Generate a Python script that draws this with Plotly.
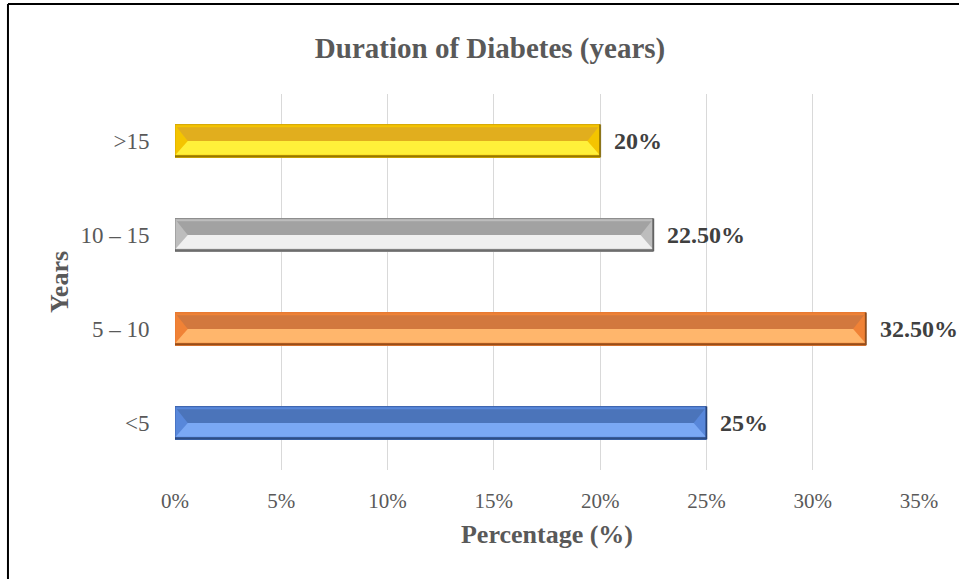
import plotly.graph_objects as go

# Duration of diabetes, share of patients per group
categories = ["<5", "5 – 10", "10 – 15", ">15"]
percentages = [25, 32.5, 22.5, 20]

# bevel palette per bar: (side facets, top facet, bottom facet, outline, edge shadow)
palette = [
    ("#5887DA", "#4B74BA", "#7AA8F4", "#3A62AE", "#13284F"),
    ("#F08236", "#D2783E", "#FFB66C", "#E8772E", "#5A2C08"),
    ("#BDBDBD", "#A2A2A2", "#F0F0F0", "#8A8A8A", "#3C3C3C"),
    ("#F4C400", "#E1AE1E", "#FFF03A", "#D7A800", "#5A4800"),
]

FONT = "Liberation Serif, Times New Roman, serif"
HALF = 0.175    # half of the bar thickness (category units)
FACET = 0.6     # horizontal depth of the end facets (percent units)

fig = go.Figure()

# base bars carry the side-facet colour
fig.add_trace(go.Bar(
    x=percentages,
    y=list(range(len(categories))),
    orientation="h",
    width=2 * HALF,
    marker=dict(color=[p[0] for p in palette],
                line=dict(color=[p[3] for p in palette], width=1)),
    hoverinfo="skip",
    showlegend=False,
))

# bevel facets and edge shading on top of each bar
for i, v in enumerate(percentages):
    side, top, bottom, outline, shadow = palette[i]
    yc = i
    fig.add_trace(go.Scatter(
        x=[0.03, v - 0.03, v - FACET, FACET, 0.03],
        y=[yc + HALF - 0.012, yc + HALF - 0.012, yc, yc, yc + HALF - 0.012],
        fill="toself", fillcolor=top, mode="lines", line=dict(width=0),
        hoverinfo="skip", showlegend=False,
    ))
    fig.add_trace(go.Scatter(
        x=[0.03, v - 0.03, v - FACET, FACET, 0.03],
        y=[yc - HALF + 0.03, yc - HALF + 0.03, yc, yc, yc - HALF + 0.03],
        fill="toself", fillcolor=bottom, mode="lines", line=dict(width=0),
        hoverinfo="skip", showlegend=False,
    ))
    # thin highlight along the top edge
    fig.add_trace(go.Scatter(
        x=[0.05, v - 0.05], y=[yc + HALF - 0.02, yc + HALF - 0.02],
        mode="lines", line=dict(color=side, width=1.5),
        hoverinfo="skip", showlegend=False,
    ))
    # darker bottom and right edges
    fig.add_trace(go.Scatter(
        x=[0, v, v], y=[yc - HALF + 0.012, yc - HALF + 0.012, yc + HALF],
        mode="lines", line=dict(color=shadow, width=2),
        opacity=0.6, hoverinfo="skip", showlegend=False,
    ))

# value labels next to each bar end
for i, v in enumerate(percentages):
    label = f"{v:.0f}%" if float(v).is_integer() else f"{v:.2f}%"
    fig.add_annotation(
        x=v, y=i, text=f"<b>{label}</b>", showarrow=False,
        xanchor="left", yanchor="middle", xshift=12,
        font=dict(family=FONT, size=24, color="#404040"),
    )

# outer frame of the chart area
fig.add_shape(type="line", xref="paper", yref="paper",
              x0=-0.2245, x1=-0.2245, y0=-0.4, y1=1.2394,
              line=dict(color="black", width=2))
fig.add_shape(type="line", xref="paper", yref="paper",
              x0=-0.2245, x1=1.2, y0=1.2394, y1=1.2394,
              line=dict(color="black", width=2))

fig.update_layout(
    width=959, height=579,
    margin=dict(l=175, r=40, t=94, b=109),
    paper_bgcolor="white", plot_bgcolor="white",
    barmode="overlay",
    title=dict(text="<b>Duration of Diabetes (years)</b>",
               x=0.511, xref="container", xanchor="center",
               y=1 - 48 / 579, yref="container", yanchor="middle",
               font=dict(family=FONT, size=29, color="#595959")),
    xaxis=dict(
        range=[0, 35], dtick=5, ticksuffix="%",
        showgrid=True, gridcolor="#D9D9D9", gridwidth=1,
        zeroline=False, showline=False,
        ticks="outside", ticklen=12, tickcolor="rgba(0,0,0,0)",
        tickfont=dict(family=FONT, size=21, color="#595959"),
        title=dict(text="<b>Percentage (%)</b>", standoff=12,
                   font=dict(family=FONT, size=26, color="#595959")),
        fixedrange=True,
    ),
    yaxis=dict(
        range=[-0.5, 3.5],
        tickvals=list(range(len(categories))), ticktext=categories,
        showgrid=False, zeroline=False, showline=False,
        ticks="outside", ticklen=20, tickcolor="rgba(0,0,0,0)",
        tickfont=dict(family=FONT, size=23, color="#595959"),
        title=dict(text="<b>Years</b>", standoff=4,
                   font=dict(family=FONT, size=26, color="#595959")),
        fixedrange=True,
    ),
)

fig.write_html("out.html")
